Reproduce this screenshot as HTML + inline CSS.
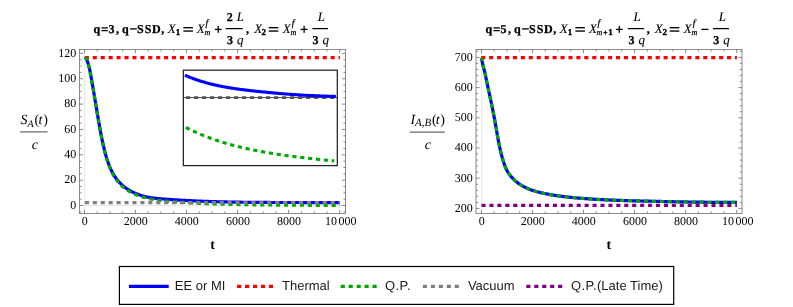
<!DOCTYPE html>
<html><head><meta charset="utf-8"><title>plot</title>
<style>
html,body{margin:0;padding:0;background:#fff;}
svg{display:block;will-change:transform;}
text{fill:#000;text-rendering:geometricPrecision;font-family:"Liberation Serif", serif;}
.tk{font:12px "Liberation Serif", serif;}
.yl{font:italic 14px "Liberation Serif", serif;}
.yr{font:14px "Liberation Serif", serif;}
.ys{font:italic 10px "Liberation Serif", serif;}
.ys2{font:italic 11px "Liberation Serif", serif;}
.xl{font:bold 14px "Liberation Serif", serif;}
.lg{font:13px "Liberation Sans", sans-serif;fill:#1a1a1a;}
</style></head>
<body>
<svg width="793" height="307" viewBox="0 0 793 307">
<rect width="793" height="307" fill="#fff"/>
<path d="M84.65,49.5V213.5M79.5,205.65H345.5" stroke="#e6e6e6" stroke-width="1" fill="none"/>
<path d="M85.48,56.93 L85.80,57.58 L86.10,58.23 L86.40,58.89 L86.68,59.55 L86.94,60.21 L87.20,60.87 L87.44,61.54 L87.68,62.22 L87.90,62.89 L88.12,63.57 L88.33,64.25 L88.53,64.93 L88.72,65.62 L88.90,66.30 L89.07,66.99 L89.24,67.68 L89.40,68.38 L89.56,69.07 L89.71,69.77 L89.86,70.46 L90.00,71.16 L90.14,71.86 L90.28,72.56 L90.41,73.26 L90.54,73.97 L90.67,74.67 L90.80,75.37 L90.92,76.07 L91.05,76.78 L91.17,77.48 L91.30,78.18 L91.42,78.89 L91.55,79.59 L91.67,80.29 L91.80,80.99 L91.92,81.70 L92.04,82.40 L92.17,83.10 L92.29,83.81 L92.41,84.51 L92.53,85.21 L92.66,85.92 L92.78,86.62 L92.90,87.32 L93.02,88.03 L93.14,88.73 L93.27,89.43 L93.39,90.13 L93.51,90.84 L93.63,91.54 L93.75,92.24 L93.87,92.95 L93.99,93.65 L94.11,94.35 L94.23,95.06 L94.35,95.76 L94.47,96.46 L94.59,97.17 L94.71,97.87 L94.82,98.57 L94.94,99.28 L95.06,99.98 L95.18,100.68 L95.30,101.39 L95.42,102.09 L95.54,102.79 L95.65,103.50 L95.77,104.20 L95.89,104.90 L96.01,105.61 L96.13,106.31 L96.24,107.01 L96.36,107.72 L96.48,108.42 L96.60,109.12 L96.72,109.83 L96.83,110.53 L96.95,111.23 L97.07,111.94 L97.19,112.64 L97.30,113.34 L97.42,114.05 L97.54,114.75 L97.66,115.45 L97.78,116.16 L97.90,116.86 L98.01,117.56 L98.13,118.27 L98.25,118.97 L98.37,119.67 L98.49,120.38 L98.62,121.08 L98.74,121.78 L98.86,122.49 L98.98,123.19 L99.11,123.89 L99.23,124.59 L99.35,125.30 L99.48,126.00 L99.61,126.70 L99.73,127.40 L99.86,128.10 L99.99,128.80 L100.12,129.51 L100.25,130.21 L100.38,130.91 L100.51,131.61 L100.64,132.31 L100.78,133.01 L100.91,133.71 L101.05,134.41 L101.18,135.11 L101.32,135.81 L101.46,136.51 L101.60,137.21 L101.74,137.91 L101.89,138.61 L102.03,139.31 L102.18,140.00 L102.32,140.70 L102.47,141.40 L102.62,142.10 L102.77,142.79 L102.93,143.49 L103.08,144.19 L103.23,144.88 L103.39,145.58 L103.55,146.27 L103.71,146.97 L103.87,147.66 L104.04,148.36 L104.20,149.05 L104.37,149.75 L104.54,150.44 L104.72,151.13 L104.89,151.82 L105.07,152.51 L105.26,153.20 L105.44,153.89 L105.63,154.58 L105.82,155.27 L106.02,155.95 L106.22,156.64 L106.42,157.32 L106.63,158.00 L106.84,158.68 L107.06,159.36 L107.28,160.04 L107.50,160.72 L107.73,161.40 L107.96,162.07 L108.20,162.74 L108.45,163.41 L108.70,164.08 L108.95,164.75 L109.21,165.42 L109.48,166.08 L109.75,166.74 L110.03,167.40 L110.32,168.06 L110.61,168.72 L110.90,169.37 L111.21,170.02 L111.52,170.67 L111.84,171.31 L112.16,171.95 L112.49,172.58 L112.83,173.21 L113.18,173.84 L113.54,174.46 L113.90,175.08 L114.27,175.69 L114.65,176.29 L115.04,176.89 L115.44,177.48 L115.84,178.06 L116.26,178.64 L116.68,179.21 L117.12,179.77 L117.56,180.32 L118.01,180.87 L118.48,181.41 L118.95,181.93 L119.43,182.45 L119.92,182.97 L120.42,183.47 L120.93,183.96 L121.45,184.45 L121.97,184.93 L122.50,185.39 L123.05,185.85 L123.59,186.31 L124.15,186.75 L124.71,187.18 L125.28,187.61 L125.86,188.03 L126.45,188.44 L127.04,188.84 L127.63,189.23 L128.23,189.61 L128.84,189.99 L129.46,190.35 L130.08,190.71 L130.70,191.06 L131.33,191.40 L131.97,191.73 L132.61,192.06 L133.25,192.37 L133.90,192.68 L134.55,192.98 L135.21,193.27 L135.87,193.55 L136.53,193.82 L137.20,194.09 L137.87,194.34 L138.54,194.59 L139.22,194.83 L139.90,195.07 L140.58,195.29 L141.27,195.51 L141.95,195.71 L142.64,195.91 L143.33,196.11 L144.03,196.29 L144.72,196.47 L145.42,196.63 L146.12,196.79 L146.81,196.95 L147.51,197.09 L148.21,197.23 L148.92,197.36 L149.62,197.48 L150.32,197.60 L151.03,197.71 L151.73,197.81 L152.44,197.91 L153.14,198.01 L153.85,198.10 L154.56,198.18 L155.26,198.26 L155.97,198.34 L156.68,198.41 L157.39,198.48 L158.10,198.55 L158.81,198.62 L159.52,198.68 L160.23,198.74 L160.94,198.80 L161.65,198.86 L162.36,198.91 L163.07,198.97 L163.78,199.02 L164.49,199.08 L165.21,199.13 L165.92,199.19 L166.63,199.24 L167.34,199.29 L168.05,199.34 L168.76,199.40 L169.47,199.45 L170.18,199.50 L170.89,199.55 L171.61,199.60 L172.32,199.64 L173.03,199.69 L173.74,199.74 L174.45,199.79 L175.16,199.83 L175.87,199.88 L176.59,199.92 L177.30,199.97 L178.01,200.01 L178.72,200.06 L179.43,200.10 L180.14,200.14 L180.86,200.18 L181.57,200.23 L182.28,200.27 L182.99,200.31 L183.70,200.35 L184.42,200.39 L185.13,200.43 L185.84,200.47 L186.55,200.50 L187.26,200.54 L187.98,200.58 L188.69,200.62 L189.40,200.65 L190.11,200.69 L190.82,200.72 L191.54,200.76 L192.25,200.79 L192.96,200.83 L193.67,200.86 L194.38,200.89 L195.10,200.93 L195.81,200.96 L196.52,200.99 L197.23,201.02 L197.95,201.05 L198.66,201.08 L199.37,201.11 L200.08,201.14 L200.80,201.17 L201.51,201.20 L202.22,201.23 L202.93,201.26 L203.65,201.28 L204.36,201.31 L205.07,201.34 L205.79,201.36 L206.50,201.39 L207.21,201.41 L207.92,201.44 L208.64,201.46 L209.35,201.49 L210.06,201.51 L210.78,201.54 L211.49,201.56 L212.20,201.58 L212.91,201.60 L213.63,201.63 L214.34,201.65 L215.05,201.67 L215.77,201.69 L216.48,201.71 L217.19,201.73 L217.91,201.75 L218.62,201.77 L219.33,201.79 L220.04,201.81 L220.76,201.83 L221.47,201.84 L222.18,201.86 L222.90,201.88 L223.61,201.90 L224.32,201.91 L225.04,201.93 L225.75,201.95 L226.46,201.96 L227.18,201.98 L227.89,201.99 L228.60,202.01 L229.32,202.02 L230.03,202.04 L230.74,202.05 L231.46,202.07 L232.17,202.08 L232.88,202.09 L233.60,202.11 L234.31,202.12 L235.02,202.13 L235.74,202.14 L236.45,202.15 L237.16,202.17 L237.88,202.18 L238.59,202.19 L239.30,202.20 L240.02,202.21 L240.73,202.22 L241.45,202.23 L242.16,202.24 L242.87,202.25 L243.59,202.26 L244.30,202.27 L245.01,202.28 L245.73,202.29 L246.44,202.30 L247.15,202.30 L247.87,202.31 L248.58,202.32 L249.30,202.33 L250.01,202.33 L250.72,202.34 L251.44,202.35 L252.15,202.36 L252.86,202.36 L253.58,202.37 L254.29,202.37 L255.00,202.38 L255.72,202.39 L256.43,202.39 L257.15,202.40 L257.86,202.40 L258.57,202.41 L259.29,202.41 L260.00,202.42 L260.71,202.42 L261.43,202.43 L262.14,202.43 L262.86,202.44 L263.57,202.44 L264.28,202.44 L265.00,202.45 L265.71,202.45 L266.42,202.45 L267.14,202.46 L267.85,202.46 L268.57,202.46 L269.28,202.47 L269.99,202.47 L270.71,202.47 L271.42,202.48 L272.13,202.48 L272.85,202.48 L273.56,202.48 L274.28,202.48 L274.99,202.49 L275.70,202.49 L276.42,202.49 L277.13,202.49 L277.84,202.49 L278.56,202.50 L279.27,202.50 L279.99,202.50 L280.70,202.50 L281.41,202.50 L282.13,202.50 L282.84,202.50 L283.55,202.50 L284.27,202.51 L284.98,202.51 L285.69,202.51 L286.41,202.51 L287.12,202.51 L287.84,202.51 L288.55,202.51 L289.26,202.51 L289.98,202.51 L290.69,202.51 L291.40,202.51 L292.12,202.51 L292.83,202.52 L293.54,202.52 L294.26,202.52 L294.97,202.52 L295.68,202.52 L296.40,202.52 L297.11,202.52 L297.83,202.52 L298.54,202.52 L299.25,202.52 L299.97,202.52 L300.68,202.52 L301.39,202.52 L302.11,202.52 L302.82,202.52 L303.53,202.52 L304.25,202.53 L304.96,202.53 L305.67,202.53 L306.39,202.53 L307.10,202.53 L307.81,202.53 L308.53,202.53 L309.24,202.53 L309.95,202.53 L310.67,202.53 L311.38,202.53 L312.09,202.54 L312.81,202.54 L313.52,202.54 L314.23,202.54 L314.95,202.54 L315.66,202.54 L316.37,202.54 L317.09,202.55 L317.80,202.55 L318.51,202.55 L319.22,202.55 L319.94,202.55 L320.65,202.56 L321.36,202.56 L322.08,202.56 L322.79,202.56 L323.50,202.57 L324.22,202.57 L324.93,202.57 L325.64,202.58 L326.35,202.58 L327.07,202.58 L327.78,202.58 L328.49,202.59 L329.21,202.59 L329.92,202.60 L330.63,202.60 L331.34,202.60 L332.06,202.61 L332.77,202.61 L333.48,202.62 L334.19,202.62 L334.91,202.63 L335.62,202.63 L336.33,202.64 L337.04,202.64 L337.76,202.65 L338.47,202.65 L339.18,202.66 L339.89,202.67" fill="none" stroke="#0000ff" stroke-width="3.2"/>
<path d="M84.8,57.55H339.9" fill="none" stroke="#ff0000" stroke-width="3.2" stroke-dasharray="4.1 3.83"/>
<path d="M85.48,56.93 L85.80,57.58 L86.10,58.23 L86.39,58.89 L86.67,59.55 L86.93,60.21 L87.19,60.88 L87.43,61.55 L87.67,62.22 L87.89,62.90 L88.10,63.57 L88.31,64.25 L88.51,64.94 L88.69,65.62 L88.88,66.31 L89.05,67.00 L89.22,67.69 L89.38,68.38 L89.54,69.08 L89.69,69.77 L89.83,70.47 L89.97,71.17 L90.11,71.87 L90.25,72.57 L90.38,73.27 L90.51,73.97 L90.64,74.67 L90.76,75.38 L90.89,76.08 L91.01,76.78 L91.14,77.49 L91.26,78.19 L91.38,78.89 L91.51,79.60 L91.63,80.30 L91.75,81.00 L91.88,81.71 L92.00,82.41 L92.12,83.11 L92.24,83.81 L92.37,84.52 L92.49,85.22 L92.61,85.92 L92.73,86.63 L92.85,87.33 L92.97,88.03 L93.09,88.74 L93.21,89.44 L93.33,90.14 L93.45,90.85 L93.57,91.55 L93.69,92.25 L93.81,92.96 L93.93,93.66 L94.05,94.36 L94.17,95.07 L94.29,95.77 L94.41,96.47 L94.53,97.18 L94.64,97.88 L94.76,98.58 L94.88,99.29 L95.00,99.99 L95.12,100.69 L95.23,101.40 L95.35,102.10 L95.47,102.80 L95.59,103.51 L95.70,104.21 L95.82,104.91 L95.94,105.62 L96.05,106.32 L96.17,107.02 L96.29,107.73 L96.41,108.43 L96.52,109.14 L96.64,109.84 L96.76,110.54 L96.87,111.25 L96.99,111.95 L97.11,112.65 L97.22,113.36 L97.34,114.06 L97.46,114.76 L97.58,115.47 L97.69,116.17 L97.81,116.88 L97.93,117.58 L98.05,118.28 L98.17,118.99 L98.29,119.69 L98.41,120.39 L98.53,121.10 L98.65,121.80 L98.77,122.50 L98.89,123.20 L99.01,123.91 L99.14,124.61 L99.26,125.31 L99.38,126.01 L99.51,126.72 L99.64,127.42 L99.76,128.12 L99.89,128.82 L100.02,129.52 L100.14,130.23 L100.27,130.93 L100.40,131.63 L100.53,132.33 L100.66,133.03 L100.80,133.73 L100.93,134.43 L101.06,135.13 L101.20,135.83 L101.33,136.54 L101.47,137.24 L101.61,137.93 L101.75,138.63 L101.89,139.33 L102.04,140.03 L102.18,140.73 L102.33,141.43 L102.47,142.13 L102.62,142.83 L102.77,143.52 L102.92,144.22 L103.07,144.92 L103.23,145.62 L103.38,146.31 L103.54,147.01 L103.70,147.71 L103.86,148.40 L104.03,149.10 L104.19,149.79 L104.36,150.48 L104.53,151.18 L104.70,151.87 L104.88,152.56 L105.06,153.26 L105.24,153.95 L105.43,154.64 L105.61,155.32 L105.81,156.01 L106.00,156.70 L106.20,157.39 L106.41,158.07 L106.61,158.75 L106.83,159.44 L107.04,160.12 L107.26,160.80 L107.49,161.48 L107.72,162.16 L107.95,162.83 L108.20,163.51 L108.44,164.18 L108.69,164.85 L108.95,165.52 L109.21,166.19 L109.48,166.86 L109.75,167.52 L110.03,168.19 L110.31,168.85 L110.60,169.51 L110.89,170.17 L111.19,170.83 L111.50,171.48 L111.81,172.13 L112.13,172.78 L112.46,173.42 L112.80,174.05 L113.15,174.69 L113.50,175.32 L113.86,175.94 L114.23,176.56 L114.61,177.17 L115.00,177.78 L115.39,178.38 L115.80,178.98 L116.22,179.56 L116.64,180.14 L117.08,180.72 L117.53,181.28 L117.99,181.83 L118.46,182.38 L118.94,182.92 L119.42,183.45 L119.92,183.98 L120.42,184.49 L120.94,185.00 L121.46,185.50 L121.99,185.99 L122.53,186.47 L123.08,186.94 L123.64,187.40 L124.21,187.85 L124.78,188.29 L125.36,188.73 L125.95,189.16 L126.54,189.57 L127.14,189.98 L127.75,190.39 L128.36,190.78 L128.98,191.16 L129.61,191.54 L130.24,191.90 L130.88,192.25 L131.53,192.59 L132.17,192.92 L132.83,193.25 L133.49,193.56 L134.15,193.87 L134.81,194.17 L135.48,194.46 L136.16,194.74 L136.84,195.01 L137.52,195.28 L138.20,195.54 L138.88,195.80 L139.57,196.05 L140.26,196.29 L140.95,196.52 L141.65,196.74 L142.35,196.96 L143.05,197.17 L143.75,197.37 L144.45,197.56 L145.16,197.74 L145.86,197.92 L146.57,198.10 L147.28,198.27 L147.98,198.44 L148.69,198.60 L149.40,198.75 L150.11,198.89 L150.82,199.03 L151.53,199.16 L152.25,199.29 L152.96,199.41 L153.67,199.53 L154.38,199.64 L155.10,199.75 L155.81,199.86 L156.52,199.96 L157.24,200.05 L157.95,200.15 L158.66,200.24 L159.38,200.33 L160.09,200.42 L160.80,200.50 L161.51,200.59 L162.22,200.66 L162.93,200.73 L163.65,200.80 L164.36,200.87 L165.07,200.93 L165.78,201.00 L166.49,201.06 L167.20,201.13 L167.92,201.19 L168.63,201.25 L169.34,201.32 L170.05,201.38 L170.76,201.44 L171.48,201.50 L172.19,201.56 L172.90,201.63 L173.61,201.69 L174.32,201.75 L175.04,201.81 L175.75,201.87 L176.46,201.92 L177.17,201.98 L177.88,202.04 L178.60,202.10 L179.31,202.15 L180.02,202.20 L180.73,202.26 L181.45,202.31 L182.16,202.36 L182.87,202.41 L183.58,202.46 L184.30,202.51 L185.01,202.56 L185.72,202.61 L186.44,202.65 L187.15,202.70 L187.86,202.75 L188.58,202.79 L189.29,202.84 L190.00,202.89 L190.72,202.92 L191.43,202.96 L192.14,203.00 L192.86,203.04 L193.57,203.07 L194.28,203.11 L195.00,203.14 L195.71,203.18 L196.42,203.21 L197.14,203.25 L197.85,203.28 L198.56,203.31 L199.28,203.35 L199.99,203.38 L200.71,203.41 L201.42,203.44 L202.13,203.47 L202.85,203.51 L203.56,203.54 L204.28,203.57 L204.99,203.60 L205.70,203.62 L206.42,203.65 L207.13,203.68 L207.84,203.71 L208.56,203.74 L209.27,203.76 L209.99,203.79 L210.70,203.82 L211.41,203.84 L212.13,203.87 L212.84,203.89 L213.56,203.92 L214.27,203.94 L214.98,203.97 L215.70,203.99 L216.41,204.01 L217.13,204.03 L217.84,204.05 L218.56,204.07 L219.27,204.10 L219.98,204.12 L220.70,204.14 L221.41,204.15 L222.13,204.17 L222.84,204.19 L223.56,204.21 L224.27,204.23 L224.98,204.25 L225.70,204.26 L226.41,204.28 L227.13,204.30 L227.84,204.31 L228.55,204.33 L229.27,204.35 L229.98,204.36 L230.70,204.38 L231.41,204.39 L232.13,204.41 L232.84,204.42 L233.56,204.44 L234.27,204.45 L234.98,204.46 L235.70,204.48 L236.41,204.49 L237.13,204.50 L237.84,204.52 L238.56,204.53 L239.27,204.54 L239.98,204.55 L240.70,204.56 L241.41,204.57 L242.13,204.59 L242.84,204.60 L243.56,204.61 L244.27,204.62 L244.98,204.63 L245.70,204.64 L246.41,204.65 L247.13,204.67 L247.84,204.68 L248.56,204.69 L249.27,204.70 L249.98,204.72 L250.70,204.73 L251.41,204.74 L252.13,204.75 L252.84,204.76 L253.56,204.77 L254.27,204.78 L254.98,204.79 L255.70,204.80 L256.41,204.81 L257.13,204.82 L257.84,204.83 L258.56,204.84 L259.27,204.85 L259.98,204.86 L260.70,204.87 L261.41,204.88 L262.13,204.89 L262.84,204.90 L263.56,204.91 L264.27,204.92 L264.98,204.92 L265.70,204.93 L266.41,204.94 L267.13,204.95 L267.84,204.96 L268.55,204.96 L269.27,204.97 L269.98,204.98 L270.70,204.99 L271.41,204.99 L272.13,205.00 L272.84,205.01 L273.55,205.01 L274.27,205.02 L274.98,205.03 L275.70,205.03 L276.41,205.04 L277.12,205.05 L277.84,205.05 L278.55,205.06 L279.27,205.07 L279.98,205.07 L280.69,205.08 L281.41,205.08 L282.12,205.09 L282.84,205.09 L283.55,205.10 L284.26,205.11 L284.98,205.11 L285.69,205.12 L286.40,205.12 L287.12,205.13 L287.83,205.13 L288.55,205.14 L289.26,205.14 L289.97,205.15 L290.69,205.15 L291.40,205.16 L292.11,205.16 L292.83,205.17 L293.54,205.18 L294.26,205.18 L294.97,205.19 L295.68,205.19 L296.40,205.20 L297.11,205.20 L297.82,205.21 L298.54,205.21 L299.25,205.22 L299.96,205.22 L300.68,205.23 L301.39,205.23 L302.10,205.23 L302.82,205.24 L303.53,205.24 L304.24,205.25 L304.96,205.25 L305.67,205.25 L306.38,205.26 L307.10,205.26 L307.81,205.27 L308.52,205.27 L309.24,205.28 L309.95,205.28 L310.66,205.29 L311.38,205.29 L312.09,205.30 L312.80,205.30 L313.51,205.31 L314.23,205.31 L314.94,205.32 L315.65,205.32 L316.37,205.33 L317.08,205.33 L317.79,205.34 L318.50,205.34 L319.22,205.35 L319.93,205.35 L320.64,205.36 L321.35,205.37 L322.07,205.37 L322.78,205.38 L323.49,205.38 L324.20,205.39 L324.92,205.40 L325.63,205.40 L326.34,205.41 L327.05,205.42 L327.77,205.42 L328.48,205.43 L329.19,205.44 L329.90,205.45 L330.61,205.45 L331.33,205.46 L332.04,205.47 L332.75,205.48 L333.46,205.48 L334.17,205.49 L334.89,205.50 L335.60,205.51 L336.31,205.52 L337.02,205.53 L337.73,205.54 L338.45,205.55 L339.16,205.56 L339.87,205.57" fill="none" stroke="#00aa00" stroke-width="3.2" stroke-dasharray="4.1 3.83"/>
<path d="M84.85,202.7H339.9" fill="none" stroke="#808080" stroke-width="3.2" stroke-dasharray="4.1 3.83"/>
<rect x="79.5" y="49.5" width="266.00" height="164.00" fill="none" stroke="#666" stroke-width="0.75"/>
<path d="M84.40,213.5v-3.6M84.40,49.5v3.6M97.17,213.5v-2.1M97.17,49.5v2.1M109.93,213.5v-2.1M109.93,49.5v2.1M122.70,213.5v-2.1M122.70,49.5v2.1M135.46,213.5v-3.6M135.46,49.5v3.6M148.23,213.5v-2.1M148.23,49.5v2.1M160.99,213.5v-2.1M160.99,49.5v2.1M173.75,213.5v-2.1M173.75,49.5v2.1M186.52,213.5v-3.6M186.52,49.5v3.6M199.29,213.5v-2.1M199.29,49.5v2.1M212.05,213.5v-2.1M212.05,49.5v2.1M224.82,213.5v-2.1M224.82,49.5v2.1M237.58,213.5v-3.6M237.58,49.5v3.6M250.34,213.5v-2.1M250.34,49.5v2.1M263.11,213.5v-2.1M263.11,49.5v2.1M275.88,213.5v-2.1M275.88,49.5v2.1M288.64,213.5v-3.6M288.64,49.5v3.6M301.40,213.5v-2.1M301.40,49.5v2.1M314.17,213.5v-2.1M314.17,49.5v2.1M326.94,213.5v-2.1M326.94,49.5v2.1M339.70,213.5v-3.6M339.70,49.5v3.6M79.5,205.55h3.6M345.5,205.55h-3.6M79.5,180.19h3.6M345.5,180.19h-3.6M79.5,154.83h3.6M345.5,154.83h-3.6M79.5,129.47h3.6M345.5,129.47h-3.6M79.5,104.11h3.6M345.5,104.11h-3.6M79.5,78.75h3.6M345.5,78.75h-3.6M79.5,53.39h3.6M345.5,53.39h-3.6M79.5,211.89h2.1M345.5,211.89h-2.1M79.5,199.21h2.1M345.5,199.21h-2.1M79.5,192.87h2.1M345.5,192.87h-2.1M79.5,186.53h2.1M345.5,186.53h-2.1M79.5,173.85h2.1M345.5,173.85h-2.1M79.5,167.51h2.1M345.5,167.51h-2.1M79.5,161.17h2.1M345.5,161.17h-2.1M79.5,148.49h2.1M345.5,148.49h-2.1M79.5,142.15h2.1M345.5,142.15h-2.1M79.5,135.81h2.1M345.5,135.81h-2.1M79.5,123.13h2.1M345.5,123.13h-2.1M79.5,116.79h2.1M345.5,116.79h-2.1M79.5,110.45h2.1M345.5,110.45h-2.1M79.5,97.77h2.1M345.5,97.77h-2.1M79.5,91.43h2.1M345.5,91.43h-2.1M79.5,85.09h2.1M345.5,85.09h-2.1M79.5,72.41h2.1M345.5,72.41h-2.1M79.5,66.07h2.1M345.5,66.07h-2.1M79.5,59.73h2.1M345.5,59.73h-2.1" fill="none" stroke="#666" stroke-width="0.75"/>
<text x="84.70" y="225.45" text-anchor="middle" class="tk">0</text>
<text x="135.76" y="225.45" text-anchor="middle" class="tk">2000</text>
<text x="186.82" y="225.45" text-anchor="middle" class="tk">4000</text>
<text x="237.88" y="225.45" text-anchor="middle" class="tk">6000</text>
<text x="288.94" y="225.45" text-anchor="middle" class="tk">8000</text>
<text y="225.45" class="tk"><tspan x="325.10">10</tspan><tspan x="338.60">000</tspan></text>
<text x="76.30" y="208.85" text-anchor="end" class="tk">0</text>
<text x="76.30" y="183.49" text-anchor="end" class="tk">20</text>
<text x="76.30" y="158.13" text-anchor="end" class="tk">40</text>
<text x="76.30" y="132.77" text-anchor="end" class="tk">60</text>
<text x="76.30" y="107.41" text-anchor="end" class="tk">80</text>
<text x="76.30" y="82.05" text-anchor="end" class="tk">100</text>
<text x="76.30" y="56.69" text-anchor="end" class="tk">120</text>
<rect x="183.35" y="70.2" width="153.95" height="95.4" fill="#fff" stroke="#222" stroke-width="1.25"/>
<path d="M183.4,97.6H337.3" stroke="#111" stroke-width="0.8" fill="none"/>
<path d="M186.1,97.6H336.5" stroke="#505050" stroke-width="2.6" stroke-dasharray="4.1 3.9" fill="none"/>
<path d="M184.97,75.21 L185.68,75.52 L186.39,75.83 L187.11,76.14 L187.82,76.44 L188.54,76.74 L189.26,77.03 L189.97,77.32 L190.69,77.60 L191.41,77.88 L192.13,78.16 L192.86,78.43 L193.58,78.70 L194.31,78.96 L195.03,79.22 L195.76,79.48 L196.49,79.73 L197.21,79.98 L197.94,80.23 L198.67,80.47 L199.41,80.71 L200.14,80.95 L200.87,81.18 L201.61,81.40 L202.34,81.63 L203.08,81.85 L203.81,82.07 L204.55,82.28 L205.29,82.49 L206.03,82.70 L206.77,82.90 L207.51,83.11 L208.25,83.30 L208.99,83.50 L209.74,83.69 L210.48,83.88 L211.23,84.07 L211.97,84.25 L212.72,84.43 L213.47,84.61 L214.21,84.78 L214.96,84.95 L215.71,85.12 L216.46,85.29 L217.21,85.45 L217.96,85.61 L218.71,85.77 L219.47,85.93 L220.22,86.08 L220.97,86.23 L221.73,86.38 L222.48,86.52 L223.24,86.67 L223.99,86.81 L224.75,86.95 L225.50,87.09 L226.26,87.22 L227.02,87.35 L227.78,87.48 L228.54,87.61 L229.30,87.74 L230.05,87.86 L230.81,87.99 L231.58,88.11 L232.34,88.23 L233.10,88.34 L233.86,88.46 L234.62,88.57 L235.38,88.68 L236.14,88.79 L236.91,88.90 L237.67,89.01 L238.43,89.11 L239.20,89.22 L239.96,89.32 L240.73,89.42 L241.49,89.52 L242.26,89.62 L243.02,89.72 L243.79,89.81 L244.55,89.91 L245.32,90.00 L246.08,90.09 L246.85,90.18 L247.61,90.27 L248.38,90.36 L249.15,90.45 L249.91,90.54 L250.68,90.63 L251.45,90.71 L252.21,90.80 L252.98,90.88 L253.75,90.96 L254.51,91.05 L255.28,91.13 L256.05,91.21 L256.81,91.29 L257.58,91.37 L258.35,91.45 L259.12,91.53 L259.88,91.61 L260.65,91.68 L261.42,91.76 L262.18,91.84 L262.95,91.92 L263.72,91.99 L264.48,92.07 L265.25,92.15 L266.01,92.22 L266.78,92.30 L267.55,92.37 L268.31,92.45 L269.08,92.52 L269.85,92.59 L270.61,92.66 L271.38,92.74 L272.14,92.81 L272.91,92.88 L273.68,92.95 L274.44,93.02 L275.21,93.09 L275.98,93.16 L276.74,93.23 L277.51,93.30 L278.27,93.36 L279.04,93.43 L279.81,93.49 L280.57,93.56 L281.34,93.63 L282.10,93.69 L282.87,93.75 L283.64,93.82 L284.40,93.88 L285.17,93.94 L285.94,94.00 L286.70,94.06 L287.47,94.12 L288.24,94.18 L289.00,94.24 L289.77,94.29 L290.54,94.35 L291.30,94.41 L292.07,94.46 L292.84,94.52 L293.60,94.57 L294.37,94.62 L295.14,94.67 L295.91,94.72 L296.67,94.78 L297.44,94.82 L298.21,94.87 L298.98,94.92 L299.74,94.97 L300.51,95.01 L301.28,95.06 L302.05,95.10 L302.82,95.15 L303.58,95.19 L304.35,95.23 L305.12,95.27 L305.89,95.31 L306.66,95.35 L307.43,95.39 L308.20,95.43 L308.96,95.46 L309.73,95.50 L310.50,95.53 L311.27,95.57 L312.04,95.60 L312.81,95.64 L313.58,95.67 L314.35,95.70 L315.12,95.73 L315.89,95.76 L316.66,95.79 L317.43,95.82 L318.20,95.85 L318.97,95.88 L319.74,95.91 L320.51,95.94 L321.28,95.96 L322.05,95.99 L322.82,96.02 L323.59,96.05 L324.36,96.07 L325.13,96.10 L325.90,96.12 L326.67,96.15 L327.44,96.18 L328.21,96.20 L328.98,96.23 L329.75,96.25 L330.52,96.28 L331.29,96.31 L332.06,96.33 L332.83,96.36 L333.60,96.38 L334.37,96.41 L335.14,96.43 L335.91,96.46" fill="none" stroke="#0000ff" stroke-width="3.1"/>
<path d="M185.91,127.45 L186.60,127.80 L187.29,128.15 L187.98,128.49 L188.67,128.83 L189.36,129.17 L190.06,129.50 L190.75,129.84 L191.44,130.17 L192.14,130.50 L192.84,130.82 L193.53,131.15 L194.23,131.47 L194.93,131.79 L195.63,132.11 L196.33,132.42 L197.04,132.74 L197.74,133.05 L198.44,133.36 L199.15,133.66 L199.86,133.97 L200.56,134.27 L201.27,134.57 L201.98,134.86 L202.69,135.16 L203.40,135.45 L204.11,135.74 L204.83,136.03 L205.54,136.31 L206.25,136.59 L206.97,136.87 L207.69,137.15 L208.40,137.43 L209.12,137.70 L209.84,137.97 L210.56,138.24 L211.28,138.50 L212.00,138.77 L212.72,139.03 L213.45,139.29 L214.17,139.54 L214.90,139.79 L215.62,140.05 L216.35,140.29 L217.08,140.54 L217.80,140.78 L218.53,141.02 L219.26,141.26 L219.99,141.50 L220.73,141.73 L221.46,141.96 L222.19,142.19 L222.93,142.42 L223.66,142.64 L224.40,142.86 L225.13,143.08 L225.87,143.30 L226.61,143.51 L227.34,143.72 L228.08,143.93 L228.82,144.14 L229.56,144.35 L230.30,144.55 L231.04,144.76 L231.79,144.96 L232.53,145.15 L233.27,145.35 L234.02,145.54 L234.76,145.74 L235.50,145.93 L236.25,146.12 L237.00,146.30 L237.74,146.49 L238.49,146.67 L239.24,146.85 L239.98,147.03 L240.73,147.21 L241.48,147.39 L242.23,147.56 L242.98,147.73 L243.73,147.91 L244.48,148.08 L245.23,148.24 L245.98,148.41 L246.73,148.58 L247.48,148.74 L248.23,148.90 L248.99,149.06 L249.74,149.22 L250.49,149.38 L251.25,149.54 L252.00,149.69 L252.75,149.85 L253.51,150.00 L254.26,150.15 L255.01,150.30 L255.77,150.45 L256.52,150.60 L257.28,150.75 L258.03,150.89 L258.79,151.04 L259.54,151.18 L260.30,151.32 L261.06,151.47 L261.81,151.61 L262.57,151.75 L263.32,151.88 L264.08,152.02 L264.84,152.16 L265.59,152.29 L266.35,152.42 L267.11,152.56 L267.86,152.69 L268.62,152.82 L269.38,152.95 L270.14,153.08 L270.90,153.20 L271.65,153.33 L272.41,153.46 L273.17,153.58 L273.93,153.70 L274.69,153.82 L275.45,153.95 L276.21,154.07 L276.96,154.18 L277.72,154.30 L278.48,154.42 L279.24,154.53 L280.00,154.65 L280.76,154.76 L281.52,154.88 L282.28,154.99 L283.04,155.10 L283.80,155.21 L284.57,155.32 L285.33,155.42 L286.09,155.53 L286.85,155.64 L287.61,155.74 L288.37,155.85 L289.13,155.95 L289.89,156.05 L290.66,156.15 L291.42,156.25 L292.18,156.35 L292.94,156.45 L293.70,156.55 L294.47,156.64 L295.23,156.74 L295.99,156.83 L296.75,156.93 L297.52,157.02 L298.28,157.11 L299.04,157.20 L299.81,157.29 L300.57,157.38 L301.33,157.47 L302.10,157.56 L302.86,157.65 L303.63,157.73 L304.39,157.82 L305.15,157.91 L305.92,157.99 L306.68,158.08 L307.45,158.16 L308.21,158.24 L308.97,158.33 L309.74,158.41 L310.50,158.49 L311.27,158.57 L312.03,158.66 L312.80,158.74 L313.56,158.82 L314.32,158.90 L315.09,158.98 L315.85,159.06 L316.62,159.14 L317.38,159.22 L318.15,159.30 L318.91,159.38 L319.68,159.46 L320.44,159.54 L321.21,159.62 L321.97,159.69 L322.74,159.77 L323.50,159.85 L324.26,159.93 L325.03,160.01 L325.79,160.09 L326.56,160.17 L327.32,160.25 L328.09,160.33 L328.85,160.41 L329.62,160.49 L330.38,160.57 L331.15,160.65 L331.91,160.73 L332.67,160.82 L333.44,160.90 L334.20,160.98" fill="none" stroke="#00aa00" stroke-width="3.1" stroke-dasharray="4.2 3.72"/>
<text x="93.41" y="32.50" style="font-weight:bold;font-size:12px" stroke="#000" stroke-width="0.3">q</text>
<rect x="101.50" y="27.25" width="6.30" height="1.30" fill="#000"/>
<rect x="101.50" y="29.95" width="6.30" height="1.30" fill="#000"/>
<text x="108.45" y="32.50" style="font-weight:bold;font-size:12px" stroke="#000" stroke-width="0.3">3</text>
<text x="115.94" y="32.50" style="font-weight:bold;font-size:12px" stroke="#000" stroke-width="0.3">,</text>
<text x="122.11" y="32.50" style="font-weight:bold;font-size:12px" stroke="#000" stroke-width="0.3">q</text>
<rect x="130.00" y="28.25" width="6.80" height="1.30" fill="#000"/>
<text x="136.96" y="32.50" style="font-weight:bold;font-size:12px" stroke="#000" stroke-width="0.3">S</text>
<text x="144.66" y="32.50" style="font-weight:bold;font-size:12px" stroke="#000" stroke-width="0.3">S</text>
<text x="152.09" y="32.50" style="font-weight:bold;font-size:12px" stroke="#000" stroke-width="0.3">D</text>
<text x="161.24" y="32.50" style="font-weight:bold;font-size:12px" stroke="#000" stroke-width="0.3">,</text>
<text x="167.73" y="32.50" style="font-style:italic;font-size:13px" stroke="#000" stroke-width="0.1">X</text>
<text x="175.78" y="34.60" style="font-weight:bold;font-size:9px" stroke="#000" stroke-width="0.35">1</text>
<rect x="183.40" y="27.02" width="9.50" height="1.35" fill="#000"/>
<rect x="183.40" y="30.38" width="9.50" height="1.35" fill="#000"/>
<text x="196.83" y="32.50" style="font-style:italic;font-size:13px" stroke="#000" stroke-width="0.1">X</text>
<text x="205.49" y="26.10" style="font-style:italic;font-size:9.5px" stroke="#000" stroke-width="0.25">f</text>
<text x="204.61" y="35.10" style="font-style:italic;font-size:8px" stroke="#000" stroke-width="0.25">m</text>
<rect x="214.80" y="28.75" width="6.80" height="1.30" fill="#000"/>
<rect x="217.55" y="26.00" width="1.3" height="6.80" fill="#000"/>
<rect x="225.70" y="27.98" width="17.00" height="1.25" fill="#000"/>
<text x="226.70" y="20.50" style="font-weight:bold;font-size:12px" stroke="#000" stroke-width="0.3">2</text>
<text x="236.75" y="20.50" style="font-style:italic;font-size:13px" stroke="#000" stroke-width="0.1">L</text>
<text x="226.95" y="43.70" style="font-weight:bold;font-size:12px" stroke="#000" stroke-width="0.3">3</text>
<text x="237.07" y="43.70" style="font-style:italic;font-size:13px" stroke="#000" stroke-width="0.1">q</text>
<text x="246.04" y="32.50" style="font-weight:bold;font-size:12px" stroke="#000" stroke-width="0.3">,</text>
<text x="254.13" y="32.50" style="font-style:italic;font-size:13px" stroke="#000" stroke-width="0.1">X</text>
<text x="261.42" y="34.60" style="font-weight:bold;font-size:9px" stroke="#000" stroke-width="0.35">2</text>
<rect x="268.70" y="27.02" width="9.60" height="1.35" fill="#000"/>
<rect x="268.70" y="30.38" width="9.60" height="1.35" fill="#000"/>
<text x="282.63" y="32.50" style="font-style:italic;font-size:13px" stroke="#000" stroke-width="0.1">X</text>
<text x="291.79" y="26.10" style="font-style:italic;font-size:9.5px" stroke="#000" stroke-width="0.25">f</text>
<text x="290.51" y="35.10" style="font-style:italic;font-size:8px" stroke="#000" stroke-width="0.25">m</text>
<rect x="300.60" y="28.75" width="7.00" height="1.30" fill="#000"/>
<rect x="303.45" y="25.90" width="1.3" height="7.00" fill="#000"/>
<rect x="312.40" y="27.98" width="15.60" height="1.25" fill="#000"/>
<text x="317.65" y="20.50" style="font-style:italic;font-size:13px" stroke="#000" stroke-width="0.1">L</text>
<text x="312.55" y="43.70" style="font-weight:bold;font-size:12px" stroke="#000" stroke-width="0.3">3</text>
<text x="322.57" y="43.70" style="font-style:italic;font-size:13px" stroke="#000" stroke-width="0.1">q</text>
<text x="20.6" y="124.1" class="yl" >S</text>
<text x="27.6" y="127.4" class="ys" >A</text>
<text x="34.6" y="124.1" class="yr" >(</text>
<text x="38.4" y="124.1" class="yl" >t</text>
<text x="43.2" y="124.1" class="yr" >)</text>
<path d="M20,131.9H47.6" stroke="#666" stroke-width="1.2"/>
<text x="31.7" y="149" class="yl" >c</text>
<text x="212.5" y="249" class="xl" text-anchor="middle">t</text>
<path d="M481.65,49.5V213.5" stroke="#e6e6e6" stroke-width="1" fill="none"/>
<path d="M481.61,57.90 L481.69,58.61 L481.78,59.31 L481.89,60.01 L482.00,60.71 L482.13,61.41 L482.27,62.11 L482.41,62.80 L482.57,63.49 L482.73,64.18 L482.89,64.87 L483.06,65.56 L483.24,66.25 L483.41,66.94 L483.59,67.63 L483.77,68.31 L483.95,69.00 L484.12,69.69 L484.30,70.38 L484.47,71.06 L484.64,71.75 L484.80,72.44 L484.96,73.13 L485.12,73.82 L485.27,74.52 L485.42,75.21 L485.56,75.90 L485.71,76.59 L485.85,77.29 L486.00,77.98 L486.14,78.68 L486.28,79.37 L486.42,80.06 L486.57,80.76 L486.71,81.45 L486.85,82.15 L487.00,82.84 L487.14,83.53 L487.29,84.23 L487.44,84.92 L487.58,85.62 L487.73,86.31 L487.88,87.00 L488.03,87.70 L488.18,88.39 L488.33,89.08 L488.48,89.78 L488.63,90.47 L488.78,91.17 L488.93,91.86 L489.08,92.55 L489.23,93.25 L489.38,93.94 L489.53,94.64 L489.69,95.33 L489.84,96.02 L489.99,96.72 L490.14,97.41 L490.29,98.11 L490.44,98.80 L490.59,99.50 L490.74,100.19 L490.88,100.88 L491.03,101.58 L491.18,102.27 L491.33,102.97 L491.47,103.66 L491.62,104.35 L491.76,105.05 L491.91,105.74 L492.05,106.44 L492.20,107.13 L492.34,107.83 L492.48,108.52 L492.62,109.22 L492.76,109.91 L492.90,110.60 L493.04,111.30 L493.17,111.99 L493.31,112.69 L493.44,113.38 L493.58,114.08 L493.71,114.77 L493.84,115.47 L493.98,116.16 L494.11,116.86 L494.24,117.56 L494.37,118.25 L494.50,118.95 L494.62,119.64 L494.75,120.34 L494.88,121.04 L495.01,121.73 L495.13,122.43 L495.26,123.13 L495.38,123.83 L495.51,124.52 L495.63,125.22 L495.75,125.92 L495.88,126.62 L496.00,127.32 L496.12,128.02 L496.24,128.72 L496.37,129.42 L496.49,130.12 L496.61,130.82 L496.73,131.52 L496.85,132.22 L496.97,132.92 L497.10,133.62 L497.22,134.32 L497.34,135.02 L497.47,135.72 L497.59,136.42 L497.72,137.12 L497.84,137.82 L497.97,138.52 L498.10,139.22 L498.23,139.92 L498.36,140.62 L498.49,141.32 L498.62,142.01 L498.76,142.71 L498.90,143.41 L499.04,144.11 L499.18,144.80 L499.32,145.50 L499.46,146.19 L499.61,146.89 L499.76,147.58 L499.91,148.28 L500.06,148.97 L500.22,149.66 L500.38,150.35 L500.54,151.04 L500.71,151.73 L500.87,152.42 L501.04,153.11 L501.22,153.80 L501.39,154.48 L501.57,155.17 L501.76,155.85 L501.94,156.54 L502.13,157.22 L502.33,157.90 L502.52,158.58 L502.73,159.26 L502.93,159.94 L503.14,160.61 L503.35,161.29 L503.57,161.96 L503.79,162.63 L504.02,163.30 L504.25,163.97 L504.49,164.64 L504.73,165.31 L504.97,165.97 L505.22,166.63 L505.48,167.29 L505.75,167.95 L506.02,168.60 L506.31,169.25 L506.61,169.89 L506.92,170.52 L507.25,171.14 L507.60,171.75 L507.96,172.35 L508.34,172.95 L508.73,173.53 L509.14,174.11 L509.56,174.68 L509.99,175.24 L510.43,175.80 L510.89,176.34 L511.35,176.88 L511.82,177.42 L512.31,177.94 L512.80,178.46 L513.31,178.97 L513.82,179.47 L514.34,179.96 L514.87,180.44 L515.41,180.92 L515.96,181.38 L516.51,181.84 L517.07,182.29 L517.64,182.72 L518.21,183.15 L518.79,183.57 L519.37,183.97 L519.96,184.37 L520.56,184.76 L521.16,185.13 L521.77,185.50 L522.38,185.86 L522.99,186.20 L523.61,186.54 L524.24,186.87 L524.87,187.19 L525.50,187.50 L526.13,187.80 L526.78,188.10 L527.42,188.38 L528.07,188.66 L528.72,188.93 L529.37,189.19 L530.03,189.45 L530.69,189.70 L531.36,189.94 L532.03,190.17 L532.70,190.40 L533.37,190.62 L534.04,190.84 L534.72,191.05 L535.40,191.25 L536.08,191.45 L536.76,191.64 L537.45,191.83 L538.14,192.01 L538.82,192.19 L539.51,192.37 L540.20,192.54 L540.90,192.70 L541.59,192.86 L542.28,193.02 L542.98,193.17 L543.67,193.33 L544.37,193.47 L545.07,193.62 L545.76,193.76 L546.46,193.90 L547.16,194.04 L547.86,194.17 L548.55,194.30 L549.25,194.43 L549.95,194.55 L550.65,194.68 L551.35,194.80 L552.05,194.92 L552.75,195.03 L553.45,195.15 L554.15,195.26 L554.85,195.37 L555.55,195.47 L556.25,195.58 L556.96,195.68 L557.66,195.78 L558.36,195.88 L559.06,195.98 L559.77,196.07 L560.47,196.16 L561.17,196.26 L561.87,196.35 L562.58,196.43 L563.28,196.52 L563.99,196.60 L564.69,196.69 L565.39,196.77 L566.10,196.85 L566.80,196.93 L567.51,197.01 L568.21,197.08 L568.92,197.16 L569.62,197.23 L570.33,197.30 L571.03,197.38 L571.74,197.45 L572.44,197.52 L573.15,197.59 L573.85,197.65 L574.56,197.72 L575.27,197.79 L575.97,197.85 L576.68,197.92 L577.38,197.98 L578.09,198.04 L578.80,198.10 L579.50,198.16 L580.21,198.22 L580.92,198.28 L581.62,198.34 L582.33,198.39 L583.04,198.45 L583.74,198.51 L584.45,198.56 L585.16,198.61 L585.86,198.67 L586.57,198.72 L587.28,198.77 L587.99,198.82 L588.69,198.87 L589.40,198.92 L590.11,198.96 L590.82,199.01 L591.52,199.06 L592.23,199.10 L592.94,199.15 L593.65,199.19 L594.35,199.23 L595.06,199.28 L595.77,199.32 L596.48,199.36 L597.19,199.40 L597.89,199.44 L598.60,199.48 L599.31,199.52 L600.02,199.55 L600.73,199.59 L601.44,199.63 L602.14,199.66 L602.85,199.70 L603.56,199.73 L604.27,199.77 L604.98,199.80 L605.69,199.83 L606.40,199.87 L607.10,199.90 L607.81,199.93 L608.52,199.96 L609.23,199.99 L609.94,200.02 L610.65,200.05 L611.36,200.08 L612.07,200.11 L612.78,200.14 L613.49,200.16 L614.19,200.19 L614.90,200.22 L615.61,200.24 L616.32,200.27 L617.03,200.30 L617.74,200.32 L618.45,200.35 L619.16,200.37 L619.87,200.39 L620.58,200.42 L621.29,200.44 L622.00,200.46 L622.71,200.49 L623.41,200.51 L624.12,200.53 L624.83,200.55 L625.54,200.57 L626.25,200.60 L626.96,200.62 L627.67,200.64 L628.38,200.66 L629.09,200.68 L629.80,200.70 L630.51,200.72 L631.22,200.74 L631.93,200.76 L632.64,200.78 L633.35,200.80 L634.06,200.81 L634.77,200.83 L635.48,200.85 L636.19,200.87 L636.89,200.89 L637.60,200.91 L638.31,200.92 L639.02,200.94 L639.73,200.96 L640.44,200.98 L641.15,201.00 L641.86,201.01 L642.57,201.03 L643.28,201.05 L643.99,201.07 L644.70,201.08 L645.41,201.10 L646.12,201.12 L646.83,201.14 L647.53,201.15 L648.24,201.17 L648.95,201.19 L649.66,201.20 L650.37,201.22 L651.08,201.24 L651.79,201.25 L652.50,201.27 L653.21,201.29 L653.92,201.30 L654.63,201.32 L655.34,201.34 L656.05,201.35 L656.75,201.37 L657.46,201.39 L658.17,201.40 L658.88,201.42 L659.59,201.43 L660.30,201.45 L661.01,201.46 L661.72,201.48 L662.43,201.50 L663.14,201.51 L663.85,201.53 L664.55,201.54 L665.26,201.56 L665.97,201.57 L666.68,201.59 L667.39,201.60 L668.10,201.62 L668.81,201.63 L669.52,201.65 L670.23,201.66 L670.94,201.67 L671.64,201.69 L672.35,201.70 L673.06,201.72 L673.77,201.73 L674.48,201.74 L675.19,201.76 L675.90,201.77 L676.61,201.78 L677.32,201.80 L678.03,201.81 L678.74,201.82 L679.44,201.84 L680.15,201.85 L680.86,201.86 L681.57,201.88 L682.28,201.89 L682.99,201.90 L683.70,201.91 L684.41,201.93 L685.12,201.94 L685.83,201.95 L686.53,201.96 L687.24,201.97 L687.95,201.98 L688.66,202.00 L689.37,202.01 L690.08,202.02 L690.79,202.03 L691.50,202.04 L692.21,202.05 L692.92,202.06 L693.63,202.07 L694.33,202.08 L695.04,202.09 L695.75,202.10 L696.46,202.11 L697.17,202.12 L697.88,202.13 L698.59,202.14 L699.30,202.15 L700.01,202.16 L700.72,202.17 L701.43,202.18 L702.13,202.19 L702.84,202.20 L703.55,202.21 L704.26,202.22 L704.97,202.22 L705.68,202.23 L706.39,202.24 L707.10,202.25 L707.81,202.26 L708.52,202.26 L709.23,202.27 L709.94,202.28 L710.65,202.29 L711.36,202.29 L712.06,202.30 L712.77,202.31 L713.48,202.31 L714.19,202.32 L714.90,202.33 L715.61,202.33 L716.32,202.34 L717.03,202.34 L717.74,202.35 L718.45,202.36 L719.16,202.36 L719.87,202.37 L720.58,202.37 L721.29,202.38 L722.00,202.38 L722.71,202.38 L723.42,202.39 L724.13,202.39 L724.84,202.40 L725.54,202.40 L726.25,202.40 L726.96,202.41 L727.67,202.41 L728.38,202.42 L729.09,202.42 L729.80,202.42 L730.51,202.42 L731.22,202.43 L731.93,202.43 L732.64,202.43 L733.35,202.43 L734.06,202.43 L734.77,202.44 L735.48,202.44 L736.19,202.44 L736.90,202.44" fill="none" stroke="#0000ff" stroke-width="3.2"/>
<path d="M481.2,57.55H736.9" fill="none" stroke="#ff0000" stroke-width="3.2" stroke-dasharray="4.1 3.83"/>
<path d="M481.61,57.90 L481.69,58.61 L481.78,59.31 L481.89,60.01 L482.00,60.71 L482.13,61.41 L482.27,62.11 L482.41,62.80 L482.57,63.49 L482.73,64.18 L482.89,64.87 L483.06,65.56 L483.24,66.25 L483.41,66.94 L483.59,67.63 L483.77,68.31 L483.95,69.00 L484.12,69.69 L484.30,70.38 L484.47,71.06 L484.64,71.75 L484.80,72.44 L484.96,73.13 L485.12,73.82 L485.27,74.52 L485.42,75.21 L485.56,75.90 L485.71,76.59 L485.85,77.29 L486.00,77.98 L486.14,78.68 L486.28,79.37 L486.42,80.06 L486.57,80.76 L486.71,81.45 L486.85,82.15 L487.00,82.84 L487.14,83.53 L487.29,84.23 L487.44,84.92 L487.58,85.62 L487.73,86.31 L487.88,87.00 L488.03,87.70 L488.18,88.39 L488.33,89.08 L488.48,89.78 L488.63,90.47 L488.78,91.17 L488.93,91.86 L489.08,92.55 L489.23,93.25 L489.38,93.94 L489.53,94.64 L489.69,95.33 L489.84,96.02 L489.99,96.72 L490.14,97.41 L490.29,98.11 L490.44,98.80 L490.59,99.50 L490.74,100.19 L490.88,100.88 L491.03,101.58 L491.18,102.27 L491.33,102.97 L491.47,103.66 L491.62,104.35 L491.76,105.05 L491.91,105.74 L492.05,106.44 L492.20,107.13 L492.34,107.83 L492.48,108.52 L492.62,109.22 L492.76,109.91 L492.90,110.60 L493.04,111.30 L493.17,111.99 L493.31,112.69 L493.44,113.38 L493.58,114.08 L493.71,114.77 L493.84,115.47 L493.98,116.16 L494.11,116.86 L494.24,117.56 L494.37,118.25 L494.50,118.95 L494.62,119.64 L494.75,120.34 L494.88,121.04 L495.01,121.73 L495.13,122.43 L495.26,123.13 L495.38,123.83 L495.51,124.52 L495.63,125.22 L495.75,125.92 L495.88,126.62 L496.00,127.32 L496.12,128.02 L496.24,128.72 L496.37,129.42 L496.49,130.12 L496.61,130.82 L496.73,131.52 L496.85,132.22 L496.97,132.92 L497.10,133.62 L497.22,134.32 L497.34,135.02 L497.47,135.72 L497.59,136.42 L497.72,137.12 L497.84,137.82 L497.97,138.52 L498.10,139.22 L498.23,139.92 L498.36,140.62 L498.49,141.32 L498.62,142.01 L498.76,142.71 L498.90,143.41 L499.04,144.11 L499.18,144.80 L499.32,145.50 L499.46,146.19 L499.61,146.89 L499.76,147.58 L499.91,148.28 L500.06,148.97 L500.22,149.66 L500.38,150.35 L500.54,151.04 L500.71,151.73 L500.87,152.42 L501.04,153.11 L501.22,153.80 L501.39,154.48 L501.57,155.17 L501.76,155.85 L501.94,156.54 L502.13,157.22 L502.33,157.90 L502.52,158.58 L502.73,159.26 L502.93,159.94 L503.14,160.61 L503.35,161.29 L503.57,161.96 L503.79,162.63 L504.02,163.30 L504.25,163.97 L504.49,164.64 L504.73,165.31 L504.97,165.97 L505.22,166.63 L505.48,167.29 L505.75,167.95 L506.02,168.60 L506.31,169.25 L506.61,169.89 L506.92,170.52 L507.25,171.14 L507.60,171.75 L507.96,172.35 L508.34,172.95 L508.73,173.53 L509.14,174.11 L509.56,174.68 L509.99,175.24 L510.43,175.80 L510.89,176.34 L511.35,176.88 L511.82,177.42 L512.31,177.94 L512.80,178.46 L513.31,178.97 L513.82,179.47 L514.34,179.96 L514.87,180.44 L515.41,180.92 L515.96,181.38 L516.51,181.84 L517.07,182.29 L517.64,182.72 L518.21,183.15 L518.79,183.57 L519.37,183.97 L519.96,184.37 L520.56,184.76 L521.16,185.13 L521.77,185.50 L522.38,185.86 L522.99,186.20 L523.61,186.54 L524.24,186.87 L524.87,187.19 L525.50,187.50 L526.13,187.80 L526.78,188.10 L527.42,188.38 L528.07,188.66 L528.72,188.93 L529.37,189.19 L530.03,189.45 L530.69,189.70 L531.36,189.94 L532.03,190.17 L532.70,190.40 L533.37,190.62 L534.04,190.84 L534.72,191.05 L535.40,191.25 L536.08,191.45 L536.76,191.64 L537.45,191.83 L538.14,192.01 L538.82,192.19 L539.51,192.37 L540.20,192.54 L540.90,192.70 L541.59,192.86 L542.28,193.02 L542.98,193.17 L543.67,193.33 L544.37,193.47 L545.07,193.62 L545.76,193.76 L546.46,193.90 L547.16,194.04 L547.86,194.17 L548.55,194.30 L549.25,194.43 L549.95,194.55 L550.65,194.68 L551.35,194.80 L552.05,194.92 L552.75,195.03 L553.45,195.15 L554.15,195.26 L554.85,195.37 L555.55,195.47 L556.25,195.58 L556.96,195.68 L557.66,195.78 L558.36,195.88 L559.06,195.98 L559.77,196.07 L560.47,196.16 L561.17,196.26 L561.87,196.35 L562.58,196.43 L563.28,196.52 L563.99,196.60 L564.69,196.69 L565.39,196.77 L566.10,196.85 L566.80,196.93 L567.51,197.01 L568.21,197.08 L568.92,197.16 L569.62,197.23 L570.33,197.30 L571.03,197.38 L571.74,197.45 L572.44,197.52 L573.15,197.59 L573.85,197.65 L574.56,197.72 L575.27,197.79 L575.97,197.85 L576.68,197.92 L577.38,197.98 L578.09,198.04 L578.80,198.10 L579.50,198.16 L580.21,198.22 L580.92,198.28 L581.62,198.34 L582.33,198.39 L583.04,198.45 L583.74,198.51 L584.45,198.56 L585.16,198.61 L585.86,198.67 L586.57,198.72 L587.28,198.77 L587.99,198.82 L588.69,198.87 L589.40,198.92 L590.11,198.96 L590.82,199.01 L591.52,199.06 L592.23,199.10 L592.94,199.15 L593.65,199.19 L594.35,199.23 L595.06,199.28 L595.77,199.32 L596.48,199.36 L597.19,199.40 L597.89,199.44 L598.60,199.48 L599.31,199.52 L600.02,199.55 L600.73,199.59 L601.44,199.63 L602.14,199.66 L602.85,199.70 L603.56,199.73 L604.27,199.77 L604.98,199.80 L605.69,199.83 L606.40,199.87 L607.10,199.90 L607.81,199.93 L608.52,199.96 L609.23,199.99 L609.94,200.02 L610.65,200.05 L611.36,200.08 L612.07,200.11 L612.78,200.14 L613.49,200.16 L614.19,200.19 L614.90,200.22 L615.61,200.24 L616.32,200.27 L617.03,200.30 L617.74,200.32 L618.45,200.35 L619.16,200.37 L619.87,200.39 L620.58,200.42 L621.29,200.44 L622.00,200.46 L622.71,200.49 L623.41,200.51 L624.12,200.53 L624.83,200.55 L625.54,200.57 L626.25,200.60 L626.96,200.62 L627.67,200.64 L628.38,200.66 L629.09,200.68 L629.80,200.70 L630.51,200.72 L631.22,200.74 L631.93,200.76 L632.64,200.78 L633.35,200.80 L634.06,200.81 L634.77,200.83 L635.48,200.85 L636.19,200.87 L636.89,200.89 L637.60,200.91 L638.31,200.92 L639.02,200.94 L639.73,200.96 L640.44,200.98 L641.15,201.00 L641.86,201.01 L642.57,201.03 L643.28,201.05 L643.99,201.07 L644.70,201.08 L645.41,201.10 L646.12,201.12 L646.83,201.14 L647.53,201.15 L648.24,201.17 L648.95,201.19 L649.66,201.20 L650.37,201.22 L651.08,201.24 L651.79,201.25 L652.50,201.27 L653.21,201.29 L653.92,201.30 L654.63,201.32 L655.34,201.34 L656.05,201.35 L656.75,201.37 L657.46,201.39 L658.17,201.40 L658.88,201.42 L659.59,201.43 L660.30,201.45 L661.01,201.46 L661.72,201.48 L662.43,201.50 L663.14,201.51 L663.85,201.53 L664.55,201.54 L665.26,201.56 L665.97,201.57 L666.68,201.59 L667.39,201.60 L668.10,201.62 L668.81,201.63 L669.52,201.65 L670.23,201.66 L670.94,201.67 L671.64,201.69 L672.35,201.70 L673.06,201.72 L673.77,201.73 L674.48,201.74 L675.19,201.76 L675.90,201.77 L676.61,201.78 L677.32,201.80 L678.03,201.81 L678.74,201.82 L679.44,201.84 L680.15,201.85 L680.86,201.86 L681.57,201.88 L682.28,201.89 L682.99,201.90 L683.70,201.91 L684.41,201.93 L685.12,201.94 L685.83,201.95 L686.53,201.96 L687.24,201.97 L687.95,201.98 L688.66,202.00 L689.37,202.01 L690.08,202.02 L690.79,202.03 L691.50,202.04 L692.21,202.05 L692.92,202.06 L693.63,202.07 L694.33,202.08 L695.04,202.09 L695.75,202.10 L696.46,202.11 L697.17,202.12 L697.88,202.13 L698.59,202.14 L699.30,202.15 L700.01,202.16 L700.72,202.17 L701.43,202.18 L702.13,202.19 L702.84,202.20 L703.55,202.21 L704.26,202.22 L704.97,202.22 L705.68,202.23 L706.39,202.24 L707.10,202.25 L707.81,202.26 L708.52,202.26 L709.23,202.27 L709.94,202.28 L710.65,202.29 L711.36,202.29 L712.06,202.30 L712.77,202.31 L713.48,202.31 L714.19,202.32 L714.90,202.33 L715.61,202.33 L716.32,202.34 L717.03,202.34 L717.74,202.35 L718.45,202.36 L719.16,202.36 L719.87,202.37 L720.58,202.37 L721.29,202.38 L722.00,202.38 L722.71,202.38 L723.42,202.39 L724.13,202.39 L724.84,202.40 L725.54,202.40 L726.25,202.40 L726.96,202.41 L727.67,202.41 L728.38,202.42 L729.09,202.42 L729.80,202.42 L730.51,202.42 L731.22,202.43 L731.93,202.43 L732.64,202.43 L733.35,202.43 L734.06,202.43 L734.77,202.44 L735.48,202.44 L736.19,202.44 L736.90,202.44" fill="none" stroke="#00aa00" stroke-width="3.2" stroke-dasharray="4.1 3.83" stroke-dashoffset="0.8"/>
<path d="M481.5,205.45H736.9" fill="none" stroke="#800080" stroke-width="3.2" stroke-dasharray="4.1 3.83"/>
<rect x="476.0" y="49.5" width="266.00" height="164.00" fill="none" stroke="#666" stroke-width="0.75"/>
<path d="M481.40,213.5v-3.6M481.40,49.5v3.6M494.16,213.5v-2.1M494.16,49.5v2.1M506.93,213.5v-2.1M506.93,49.5v2.1M519.69,213.5v-2.1M519.69,49.5v2.1M532.46,213.5v-3.6M532.46,49.5v3.6M545.23,213.5v-2.1M545.23,49.5v2.1M557.99,213.5v-2.1M557.99,49.5v2.1M570.75,213.5v-2.1M570.75,49.5v2.1M583.52,213.5v-3.6M583.52,49.5v3.6M596.28,213.5v-2.1M596.28,49.5v2.1M609.05,213.5v-2.1M609.05,49.5v2.1M621.82,213.5v-2.1M621.82,49.5v2.1M634.58,213.5v-3.6M634.58,49.5v3.6M647.35,213.5v-2.1M647.35,49.5v2.1M660.11,213.5v-2.1M660.11,49.5v2.1M672.88,213.5v-2.1M672.88,49.5v2.1M685.64,213.5v-3.6M685.64,49.5v3.6M698.40,213.5v-2.1M698.40,49.5v2.1M711.17,213.5v-2.1M711.17,49.5v2.1M723.93,213.5v-2.1M723.93,49.5v2.1M736.70,213.5v-3.6M736.70,49.5v3.6M476.0,208.40h3.6M742.0,208.40h-3.6M476.0,178.20h3.6M742.0,178.20h-3.6M476.0,148.00h3.6M742.0,148.00h-3.6M476.0,117.80h3.6M742.0,117.80h-3.6M476.0,87.60h3.6M742.0,87.60h-3.6M476.0,57.40h3.6M742.0,57.40h-3.6M476.0,202.36h2.1M742.0,202.36h-2.1M476.0,196.32h2.1M742.0,196.32h-2.1M476.0,190.28h2.1M742.0,190.28h-2.1M476.0,184.24h2.1M742.0,184.24h-2.1M476.0,172.16h2.1M742.0,172.16h-2.1M476.0,166.12h2.1M742.0,166.12h-2.1M476.0,160.08h2.1M742.0,160.08h-2.1M476.0,154.04h2.1M742.0,154.04h-2.1M476.0,141.96h2.1M742.0,141.96h-2.1M476.0,135.92h2.1M742.0,135.92h-2.1M476.0,129.88h2.1M742.0,129.88h-2.1M476.0,123.84h2.1M742.0,123.84h-2.1M476.0,111.76h2.1M742.0,111.76h-2.1M476.0,105.72h2.1M742.0,105.72h-2.1M476.0,99.68h2.1M742.0,99.68h-2.1M476.0,93.64h2.1M742.0,93.64h-2.1M476.0,81.56h2.1M742.0,81.56h-2.1M476.0,75.52h2.1M742.0,75.52h-2.1M476.0,69.48h2.1M742.0,69.48h-2.1M476.0,63.44h2.1M742.0,63.44h-2.1M476.0,51.36h2.1M742.0,51.36h-2.1" fill="none" stroke="#666" stroke-width="0.75"/>
<text x="481.70" y="225.45" text-anchor="middle" class="tk">0</text>
<text x="532.76" y="225.45" text-anchor="middle" class="tk">2000</text>
<text x="583.82" y="225.45" text-anchor="middle" class="tk">4000</text>
<text x="634.88" y="225.45" text-anchor="middle" class="tk">6000</text>
<text x="685.94" y="225.45" text-anchor="middle" class="tk">8000</text>
<text y="225.45" class="tk"><tspan x="722.10">10</tspan><tspan x="735.60">000</tspan></text>
<text x="472.80" y="211.70" text-anchor="end" class="tk">200</text>
<text x="472.80" y="181.50" text-anchor="end" class="tk">300</text>
<text x="472.80" y="151.30" text-anchor="end" class="tk">400</text>
<text x="472.80" y="121.10" text-anchor="end" class="tk">500</text>
<text x="472.80" y="90.90" text-anchor="end" class="tk">600</text>
<text x="472.80" y="60.70" text-anchor="end" class="tk">700</text>
<text x="485.41" y="32.50" style="font-weight:bold;font-size:12px" stroke="#000" stroke-width="0.3">q</text>
<rect x="493.50" y="27.25" width="6.30" height="1.30" fill="#000"/>
<rect x="493.50" y="29.95" width="6.30" height="1.30" fill="#000"/>
<text x="500.42" y="32.50" style="font-weight:bold;font-size:12px" stroke="#000" stroke-width="0.3">5</text>
<text x="507.94" y="32.50" style="font-weight:bold;font-size:12px" stroke="#000" stroke-width="0.3">,</text>
<text x="514.11" y="32.50" style="font-weight:bold;font-size:12px" stroke="#000" stroke-width="0.3">q</text>
<rect x="522.00" y="28.25" width="6.80" height="1.30" fill="#000"/>
<text x="528.96" y="32.50" style="font-weight:bold;font-size:12px" stroke="#000" stroke-width="0.3">S</text>
<text x="536.66" y="32.50" style="font-weight:bold;font-size:12px" stroke="#000" stroke-width="0.3">S</text>
<text x="544.09" y="32.50" style="font-weight:bold;font-size:12px" stroke="#000" stroke-width="0.3">D</text>
<text x="553.24" y="32.50" style="font-weight:bold;font-size:12px" stroke="#000" stroke-width="0.3">,</text>
<text x="559.73" y="32.50" style="font-style:italic;font-size:13px" stroke="#000" stroke-width="0.1">X</text>
<text x="567.78" y="34.60" style="font-weight:bold;font-size:9px" stroke="#000" stroke-width="0.35">1</text>
<rect x="575.40" y="27.02" width="9.50" height="1.35" fill="#000"/>
<rect x="575.40" y="30.38" width="9.50" height="1.35" fill="#000"/>
<text x="588.93" y="32.50" style="font-style:italic;font-size:13px" stroke="#000" stroke-width="0.1">X</text>
<text x="597.59" y="26.10" style="font-style:italic;font-size:9.5px" stroke="#000" stroke-width="0.25">f</text>
<text x="596.61" y="35.10" style="font-style:italic;font-size:8px" stroke="#000" stroke-width="0.25">m</text>
<rect x="603.40" y="32.10" width="4.00" height="1.00" fill="#000"/>
<rect x="604.9" y="30.6" width="1.0" height="4.0" fill="#000"/>
<text x="608.18" y="35.10" style="font-weight:bold;font-size:9px" stroke="#000" stroke-width="0.35">1</text>
<rect x="615.90" y="28.75" width="6.80" height="1.30" fill="#000"/>
<rect x="618.65" y="26.00" width="1.3" height="6.80" fill="#000"/>
<rect x="627.80" y="27.98" width="16.30" height="1.25" fill="#000"/>
<text x="633.55" y="20.50" style="font-style:italic;font-size:13px" stroke="#000" stroke-width="0.1">L</text>
<text x="628.45" y="43.70" style="font-weight:bold;font-size:12px" stroke="#000" stroke-width="0.3">3</text>
<text x="638.47" y="43.70" style="font-style:italic;font-size:13px" stroke="#000" stroke-width="0.1">q</text>
<text x="646.64" y="32.50" style="font-weight:bold;font-size:12px" stroke="#000" stroke-width="0.3">,</text>
<text x="654.83" y="32.50" style="font-style:italic;font-size:13px" stroke="#000" stroke-width="0.1">X</text>
<text x="662.62" y="34.60" style="font-weight:bold;font-size:9px" stroke="#000" stroke-width="0.35">2</text>
<rect x="669.70" y="27.02" width="9.60" height="1.35" fill="#000"/>
<rect x="669.70" y="30.38" width="9.60" height="1.35" fill="#000"/>
<text x="683.73" y="32.50" style="font-style:italic;font-size:13px" stroke="#000" stroke-width="0.1">X</text>
<text x="692.79" y="26.10" style="font-style:italic;font-size:9.5px" stroke="#000" stroke-width="0.25">f</text>
<text x="691.51" y="35.10" style="font-style:italic;font-size:8px" stroke="#000" stroke-width="0.25">m</text>
<rect x="701.40" y="28.75" width="7.00" height="1.30" fill="#000"/>
<rect x="713.00" y="27.98" width="16.00" height="1.25" fill="#000"/>
<text x="718.85" y="20.50" style="font-style:italic;font-size:13px" stroke="#000" stroke-width="0.1">L</text>
<text x="713.35" y="43.70" style="font-weight:bold;font-size:12px" stroke="#000" stroke-width="0.3">3</text>
<text x="723.37" y="43.70" style="font-style:italic;font-size:13px" stroke="#000" stroke-width="0.1">q</text>
<text x="410.6" y="123.8" class="yl" >I</text>
<text x="415.0" y="126.3" class="ys2" >A,B</text>
<text x="432.0" y="123.8" class="yr" >(</text>
<text x="435.8" y="123.8" class="yl" >t</text>
<text x="440.2" y="123.8" class="yr" >)</text>
<path d="M409.9,132.2H444.8" stroke="#666" stroke-width="1.2"/>
<text x="424.8" y="149.2" class="yl" >c</text>
<text x="608.9" y="249" class="xl" text-anchor="middle">t</text>
<rect x="119.4" y="266.5" width="554.3" height="37.9" fill="#fff" stroke="#000" stroke-width="1.2"/>
<path d="M128.9,286.3H168.7" stroke="#0000ff" stroke-width="3.2"/>
<path d="M237.1,286.3H273.1" stroke="#ff0000" stroke-width="3.2" stroke-dasharray="4.15 3.8"/>
<path d="M340.7,286.3H376.7" stroke="#00aa00" stroke-width="3.2" stroke-dasharray="4.15 3.8"/>
<path d="M422.9,286.3H458.9" stroke="#808080" stroke-width="3.2" stroke-dasharray="4.15 3.8"/>
<path d="M526.3,286.3H562.3" stroke="#800080" stroke-width="3.2" stroke-dasharray="4.15 3.8"/>
<text x="174.8" y="289.9" class="lg">EE or MI</text>
<text x="282" y="289.9" class="lg">Thermal</text>
<text x="385.1" y="289.9" class="lg"><tspan letter-spacing="0.4">Q.P.</tspan></text>
<text x="467.9" y="289.9" class="lg">Vacuum</text>
<text x="571.1" y="289.9" class="lg"><tspan letter-spacing="0.4">Q.P.</tspan>(Late Time)</text>
</svg>
</body></html>
